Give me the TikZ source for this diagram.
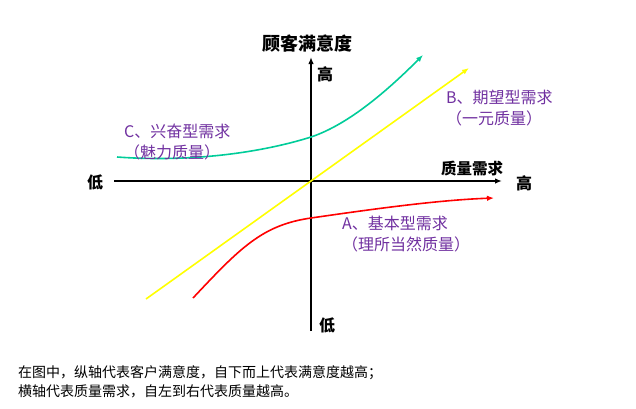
\documentclass[tikz,border=0pt]{standalone}
\usepackage{fontspec}
\setmainfont{Noto Sans CJK SC}
\usetikzlibrary{arrows.meta, positioning}

\definecolor{excitegreen}{RGB}{0,204,153}
\definecolor{expectyellow}{RGB}{255,255,0}
\definecolor{basicred}{RGB}{255,0,0}
\definecolor{kindpurple}{RGB}{112,48,160}

\begin{document}
\begin{tikzpicture}[
    x=1pt, y=-1pt,
    axis/.style={-{Latex[length=7pt, width=5.5pt]}, line width=1.8pt},
    curve/.style={-{Latex[length=7pt, width=5.5pt]}, line width=1.6pt},
    axislabel/.style={font=\bfseries\fontsize{16}{18}\selectfont, inner sep=0pt},
    kind/.style={font=\fontsize{16}{20.5}\selectfont, text=kindpurple, align=left, inner sep=0pt, anchor=north west},
    note/.style={font=\fontsize{14}{19}\selectfont, align=left, inner sep=0pt, anchor=north west}
  ]
  \useasboundingbox (0,0) rectangle (636,408);

  % Axes
  \coordinate (yBottom) at (311,331);
  \coordinate (yTop)    at (311,57);
  \coordinate (xLeft)   at (114,181);
  \coordinate (xRight)  at (502,181);
  \draw[axis] (yBottom) -- (yTop);
  \draw[axis] (xLeft) -- (xRight);

  % Axis labels
  \node (yTitle) [axislabel, font=\bfseries\fontsize{18}{20}\selectfont] at (307,44) {顾客满意度};
  \node (yHigh)  [axislabel] at (325,74) {高};
  \node (yLow)   [axislabel] at (327,325) {低};
  \node (xLow)   [axislabel] at (95,182) {低};
  \node (xHigh)  [axislabel] at (524,183) {高};
  \node (xTitle) [axislabel, font=\bfseries\fontsize{15.5}{18}\selectfont] at (472,169) {质量需求};

  % C: excitement need (green)
  \coordinate (cStart) at (117,157);
  \coordinate (cMid)   at (311,137);
  \coordinate (cEnd)   at (423,55);
  \draw[curve, excitegreen] (cStart) .. controls (200,163) and (270,150) .. (cMid)
    .. controls (350,124) and (390,88) .. (cEnd);

  % B: expected need (yellow)
  \coordinate (bStart) at (146,299);
  \coordinate (bEnd)   at (469,68);
  \draw[curve, expectyellow] (bStart) -- (bEnd);

  % A: basic need (red)
  \coordinate (aStart) at (193,298);
  \coordinate (aMid)   at (311,218);
  \coordinate (aEnd)   at (494,198);
  \draw[curve, basicred] (aStart) .. controls (240,248) and (262,225) .. (aMid)
    .. controls (380,208) and (440,200) .. (aEnd);

  % Need labels
  \node (needC) [kind] at (124,124) {C、兴奋型需求\\（魅力质量）};
  \node (needB) [kind] at (446,90)  {B、期望型需求\\（一元质量）};
  \node (needA) [kind] at (342,216) {A、基本型需求\\（理所当然质量）};

  % Caption
  \node (caption) [note] at (18,365) {在图中，纵轴代表客户满意度，自下而上代表满意度越高；\\横轴代表质量需求，自左到右代表质量越高。};
\end{tikzpicture}
\end{document}
